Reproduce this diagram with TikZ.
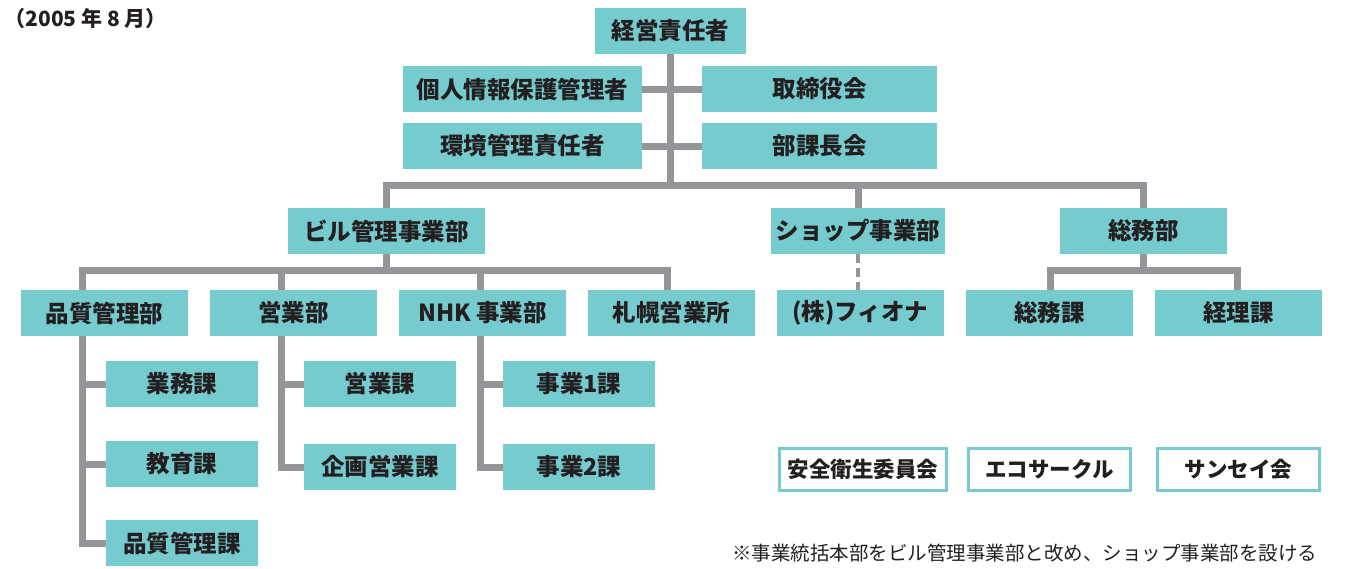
\documentclass[tikz,border=0pt]{standalone}
\usepackage{fontspec}
\setmainfont{Noto Sans CJK JP}
\usetikzlibrary{calc}
\definecolor{tealbox}{HTML}{76CBCE}
\definecolor{linegray}{HTML}{939598}
\definecolor{txt}{HTML}{231F20}
\begin{document}
\begin{tikzpicture}[x=1pt,y=-1pt,
  box/.style={fill=tealbox, minimum height=46pt, inner sep=0pt, text=txt, font=\fontsize{23.5}{25}\selectfont\bfseries},
  wbox/.style={draw=tealbox, line width=3pt, fill=white, minimum height=42pt, inner sep=0pt, text=txt, font=\fontsize{21.5}{24}\selectfont\bfseries},
  conn/.style={draw=linegray, line width=7pt, line join=miter},
  dconn/.style={draw=linegray, line width=4.5pt, dash pattern=on 9pt off 5pt}]
\useasboundingbox (0,0) rectangle (1347,568);

\node[anchor=west, text=txt, font=\fontsize{21}{23}\selectfont\bfseries] (date) at (1,19) {（2005 年 8 月）};

% top level
\node[box, minimum width=151pt] (ceo) at (670.5,31) {経営責任者};
\node[box, minimum width=239pt] (priv) at (522.5,89) {個人情報保護管理者};
\node[box, minimum width=235pt] (board) at (819.5,89) {取締役会};
\node[box, minimum width=239pt] (env) at (522.5,146) {環境管理責任者};
\node[box, minimum width=235pt] (mgr) at (819.5,146) {部課長会};

% divisions
\node[box, minimum width=197pt] (bill) at (386.5,231) {ビル管理事業部};
\node[box, minimum width=174pt] (shop) at (858,231) {ショップ事業部};
\node[box, minimum width=167pt] (gen) at (1143.5,231) {総務部};

% departments
\node[box, minimum width=167pt] (qa) at (104.5,313) {品質管理部};
\node[box, minimum width=167pt] (sales) at (293.5,313) {営業部};
\node[box, minimum width=167pt] (nhk) at (482.5,313) {NHK 事業部};
\node[box, minimum width=167pt] (sap) at (671.5,313) {札幌営業所};
\node[box, minimum width=167pt] (fio) at (860.5,313) {(株)フィオナ};
\node[box, minimum width=167pt] (gsec) at (1049.5,313) {総務課};
\node[box, minimum width=167pt] (acc) at (1238.5,313) {経理課};

% sections
\node[box, minimum width=152pt] (q1) at (182,384) {業務課};
\node[box, minimum width=152pt] (q2) at (182,464) {教育課};
\node[box, minimum width=152pt] (q3) at (182,543) {品質管理課};
\node[box, minimum width=152pt] (s1) at (380,384) {営業課};
\node[box, minimum width=152pt] (s2) at (380,467) {企画営業課};
\node[box, minimum width=152pt] (n1) at (579,384) {事業1課};
\node[box, minimum width=152pt] (n2) at (579,467) {事業2課};

% committees
\node[wbox, minimum width=167pt] (safe) at (863,469.5) {安全衛生委員会};
\node[wbox, minimum width=162pt] (eco) at (1049.5,469.5) {エコサークル};
\node[wbox, minimum width=162pt] (sansei) at (1238.5,469.5) {サンセイ会};

\node[anchor=east, text=txt, font=\fontsize{19.5}{22}\selectfont] (note) at (1321,553) {※事業統括本部をビル管理事業部と改め、ショップ事業部を設ける};

% connectors: top
\coordinate (barY) at (0,185.5);
\draw[conn] (ceo.south) -- (ceo.south |- barY);
\draw[conn] (priv.east) -- (board.west);
\draw[conn] (env.east) -- (mgr.west);
\draw[conn] (bill.north) |- (ceo.south |- barY) -| (gen.north);
\draw[conn] (shop.north |- barY) -- (shop.north);

% bill division
\coordinate (b2) at (0,270.5);
\draw[conn] (bill.south) -- (bill.south |- b2);
\draw[conn] ([xshift=-22.5pt]qa.north) |- (bill.south |- b2) -| ([xshift=-4.5pt]sap.north);
\draw[conn] ([xshift=-12pt]sales.north |- b2) -- ([xshift=-12pt]sales.north);
\draw[conn] ([xshift=-2.5pt]nhk.north |- b2) -- ([xshift=-2.5pt]nhk.north);

% general affairs
\draw[conn] (gen.south) -- (gen.south |- b2);
\draw[conn] ([xshift=0.5pt]gsec.north) |- (gen.south |- b2) -| ([xshift=-1.5pt]acc.north);

% shop dashed
\draw[dconn] (shop.south) -- (shop.south |- fio.north);

% sub sections
\draw[conn] ([xshift=-22.5pt]qa.south) |- (q3.west);
\draw[conn] ([xshift=-22.5pt]qa.south |- q1.west) -- (q1.west);
\draw[conn] ([xshift=-22.5pt]qa.south |- q2.west) -- (q2.west);
\draw[conn] ([xshift=-12pt]sales.south) |- (s2.west);
\draw[conn] ([xshift=-12pt]sales.south |- s1.west) -- (s1.west);
\draw[conn] ([xshift=-2.5pt]nhk.south) |- (n2.west);
\draw[conn] ([xshift=-2.5pt]nhk.south |- n1.west) -- (n1.west);
\end{tikzpicture}
\end{document}
